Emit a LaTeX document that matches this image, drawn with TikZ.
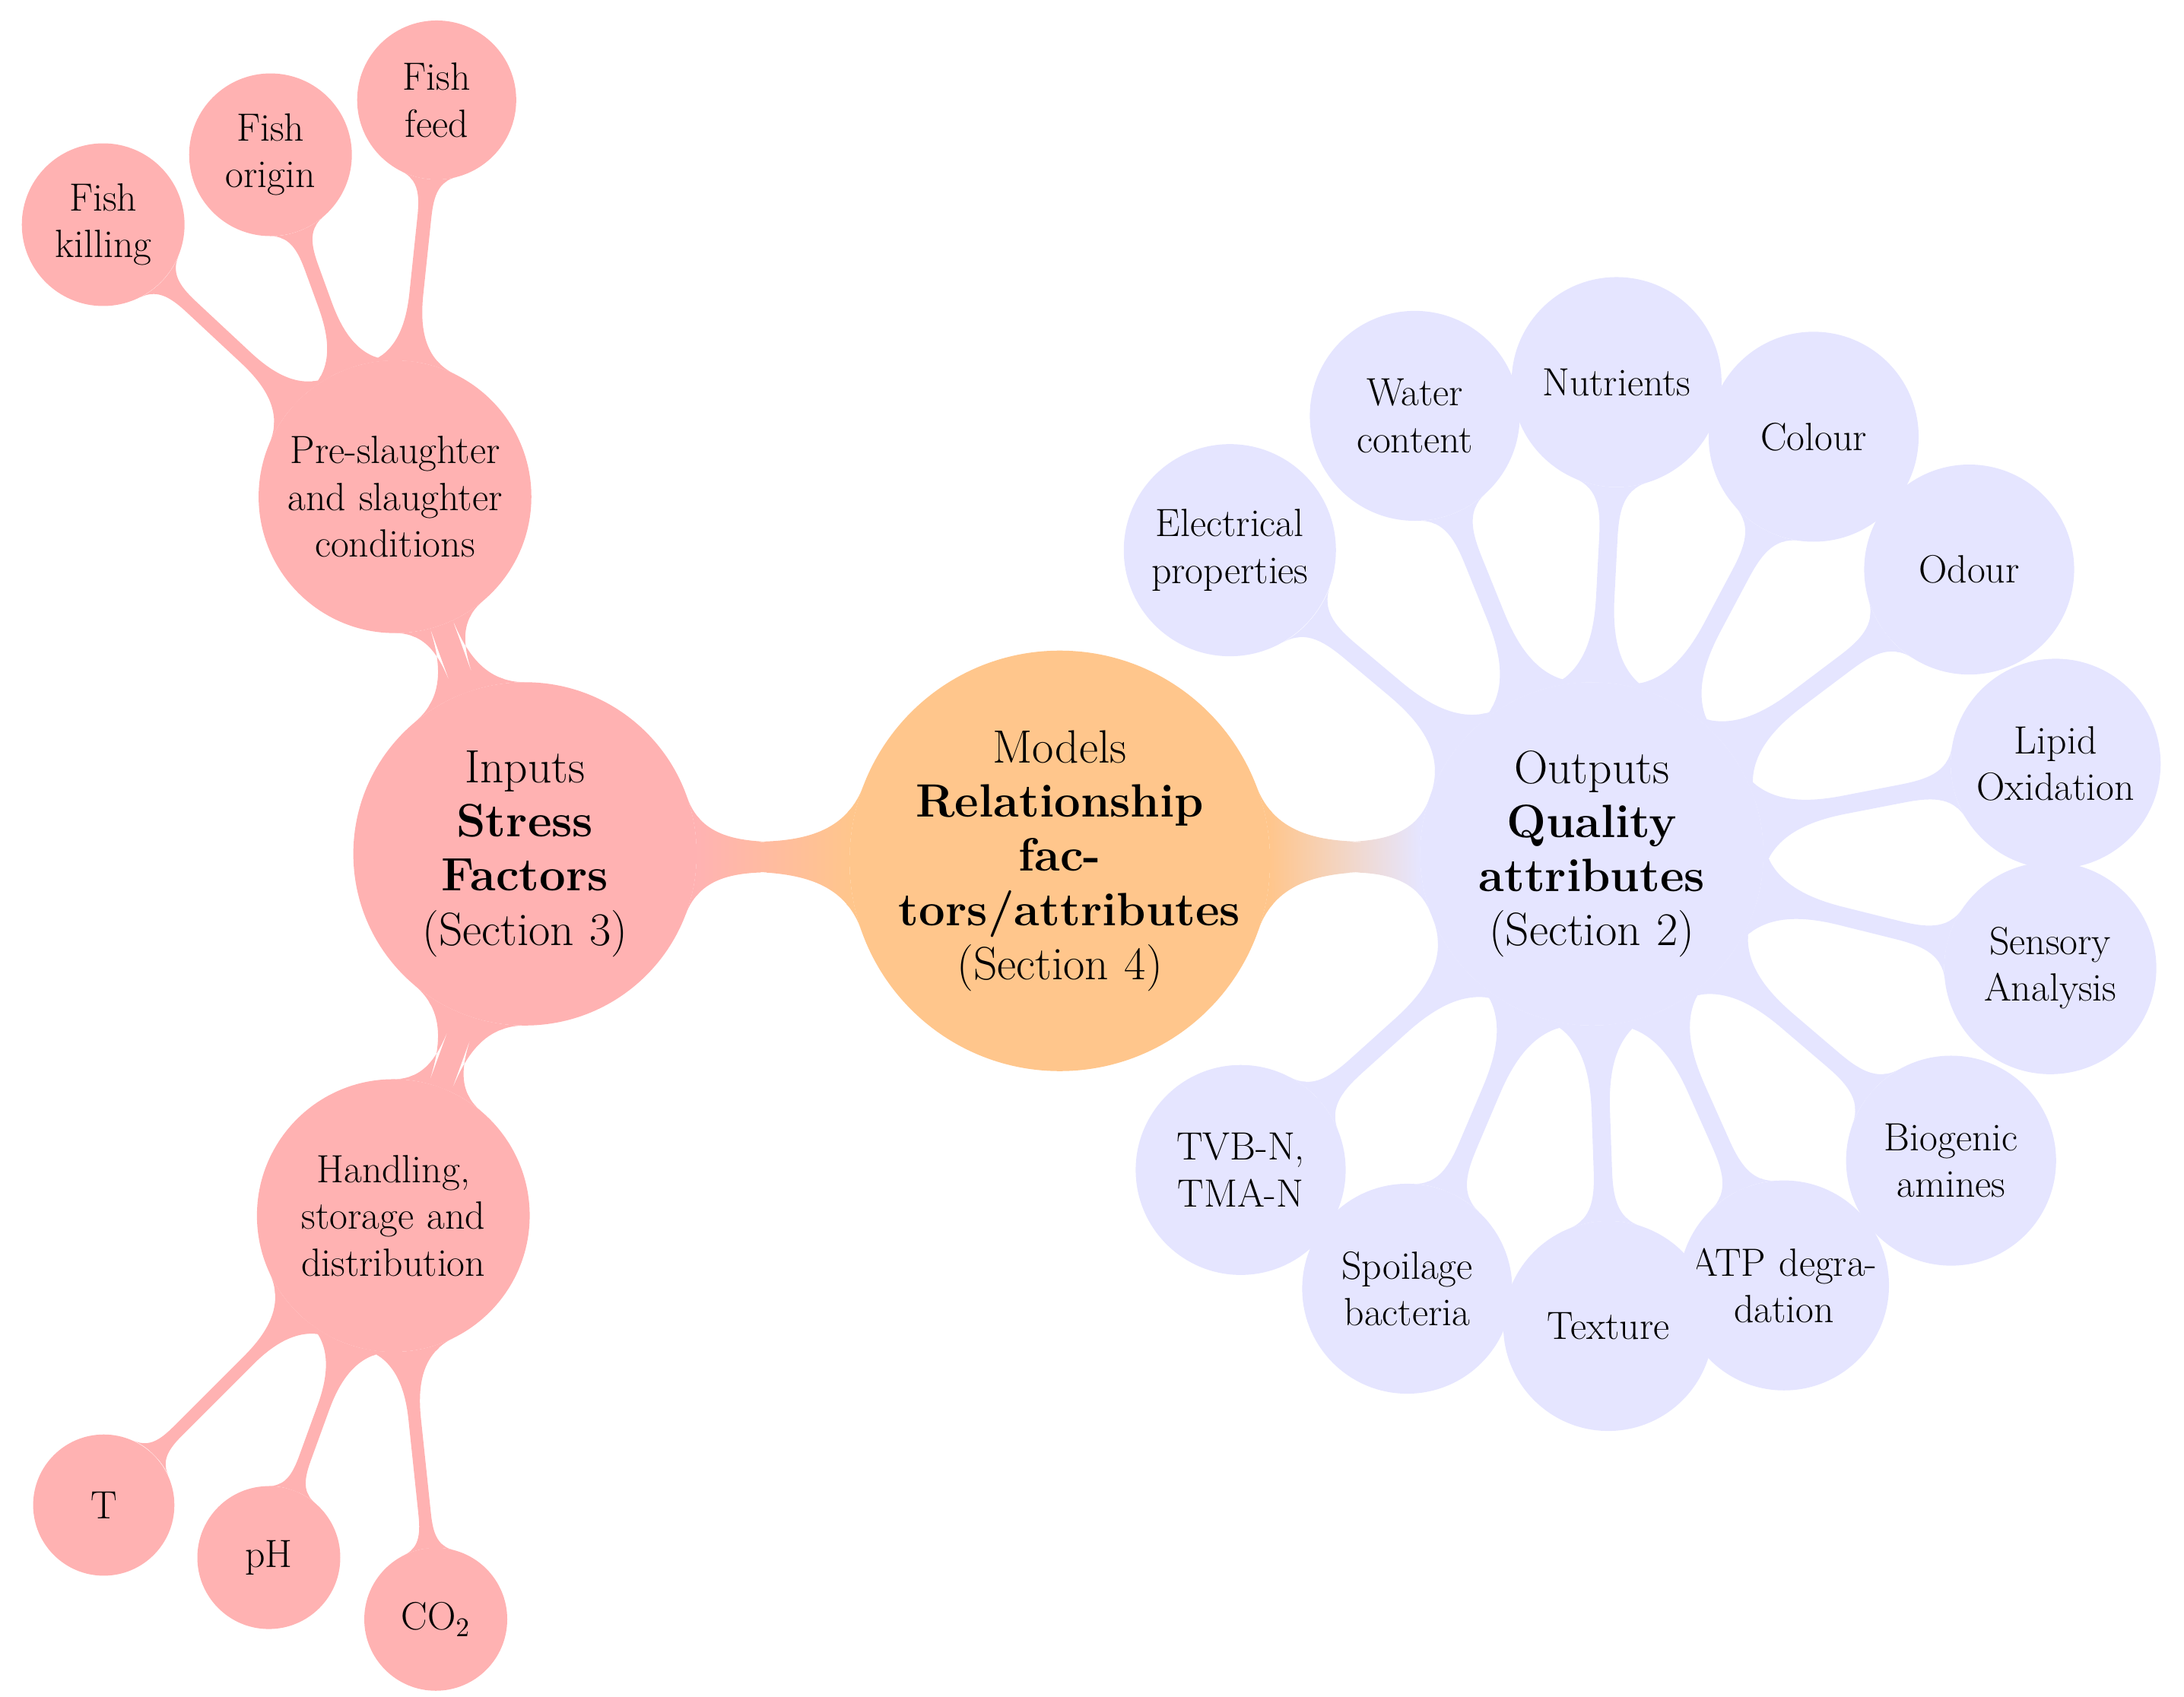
\documentclass[tikz,border=0pt]{standalone}
\usetikzlibrary{mindmap,calc}
\colorlet{inputcol}{red!30}
\colorlet{modelcol}{orange!45}
\colorlet{outputcol}{blue!10}
\tikzset{
  concept/.append style={circle, text centered, inner sep=1pt, draw=none},
  root/.style={minimum size=5.4cm, text width=4.6cm, font=\fontsize{19}{22}\selectfont},
  hub/.style={minimum size=4.5cm, text width=3.8cm, font=\fontsize{19}{22}\selectfont},
  branch/.style={minimum size=3.8cm, text width=3.4cm, font=\fontsize{16}{19}\selectfont},
  leaf/.style={minimum size=3cm, text width=2.7cm, font=\fontsize{16}{19}\selectfont},
  twig/.style={minimum size=2cm, text width=1.9cm, font=\fontsize{16}{19}\selectfont},
  inbar/.style={circle connection bar switch color=from (inputcol) to (inputcol)},
  outbar/.style={circle connection bar switch color=from (outputcol) to (outputcol)},
}
\begin{document}
\begin{tikzpicture}[mindmap]
  \useasboundingbox (0,0) rectangle (31.2,-24.24);
  % Centre and the two hubs
  \node[concept, root, fill=modelcol] (models) at (15.14,-12.3) {Models \textbf{Re\-lationship factors/attributes} (Section~4)};
  \node[concept, hub, fill=inputcol] (inputs) at (7.5,-12.2) {Inputs \textbf{Stress Factors} (Section~3)};
  \node[concept, hub, fill=outputcol] (outputs) at (22.74,-12.2) {Outputs \textbf{Quality attributes} (Section~2)};
  \path (models) to[circle connection bar switch color=from (modelcol) to (inputcol), line width=0.4cm] (inputs);
  \path (models) to[circle connection bar switch color=from (modelcol) to (outputcol), line width=0.4cm] (outputs);
  % Inputs side
  \node[concept, branch, fill=inputcol] (pre) at ($(inputs)+(110:5.43)$) {Pre-slaughter and slaughter conditions};
  \node[concept, branch, fill=inputcol] (hand) at ($(inputs)+(250:5.5)$) {Handling, storage and dis\-tribution};
  \path (inputs) to[inbar, line width=0.26cm] (pre);
  \path (inputs) to[inbar, line width=0.26cm] (hand);
  \foreach \name/\ang/\dist/\txt in {kill/137/5.7/Fish killing, origin/110/5.2/Fish origin, feed/84/5.7/Fish feed} {
    \node[concept, twig, fill=inputcol] (\name) at ($(pre)+(\ang:\dist)$) {\txt};
    \path (pre) to[inbar, line width=0.18cm] (\name);
  }
  \foreach \name/\ang/\dist/\txt in {temp/225/5.85/T, ph/250/5.2/pH, co/276/5.8/CO$_2$} {
    \node[concept, twig, fill=inputcol] (\name) at ($(hand)+(\ang:\dist)$) {\txt};
    \path (hand) to[inbar, line width=0.18cm] (\name);
  }
  % Outputs side
  \foreach \name/\ang/\txt in {elec/140/Electrical properties, water/112/Water content,
      nutr/87/Nutrients, colour/62/Colour, odour/37/Odour, lipid/11/Lipid Oxidation,
      sens/-14/Sensory Analysis, bio/-40.5/Biogenic amines, atp/-66/ATP degra-\\dation,
      text/-88/Texture, spoil/-113/Spoilage bacteria, tvb/-138/{TVB-N, TMA-N}} {
    \node[concept, leaf, fill=outputcol] (\name) at ($(outputs)+(\ang:6.75)$) {\txt};
    \path (outputs) to[outbar, line width=0.26cm] (\name);
  }
\end{tikzpicture}
\end{document}
